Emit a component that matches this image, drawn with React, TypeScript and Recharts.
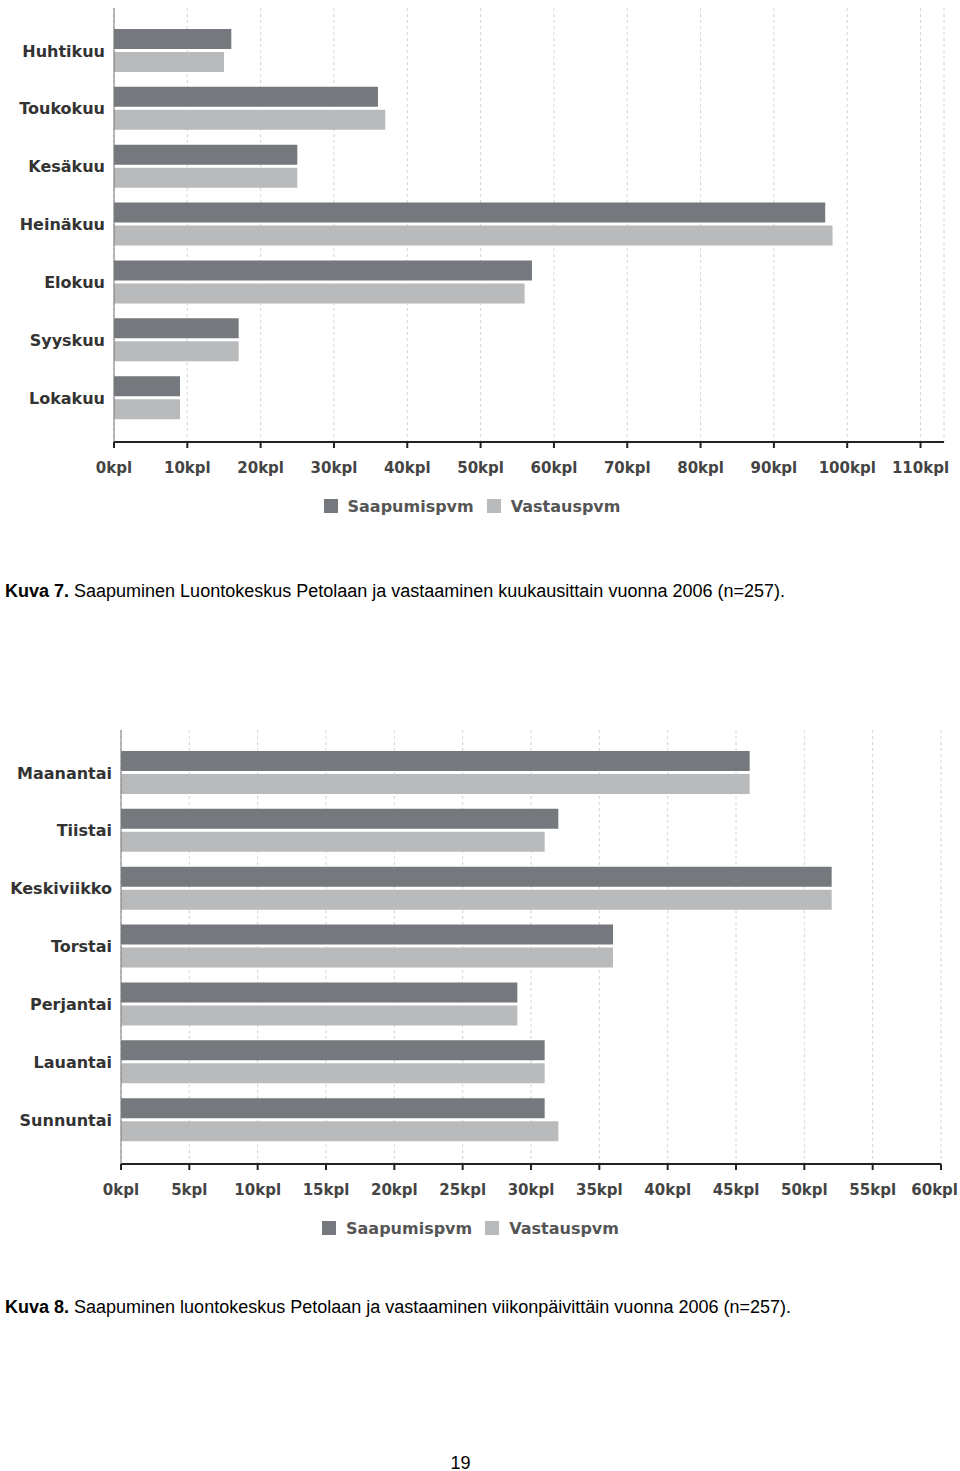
import {
  BarChart,
  Bar,
  XAxis,
  YAxis,
  CartesianGrid,
  Legend,
} from "recharts";

const months = ["Huhtikuu", "Toukokuu", "Kesäkuu", "Heinäkuu", "Elokuu", "Syyskuu", "Lokakuu"];
const monthArrivals = [16, 36, 25, 97, 57, 17, 9];
const monthReplies = [15, 37, 25, 98, 56, 17, 9];
const monthTicks = [0, 10, 20, 30, 40, 50, 60, 70, 80, 90, 100, 110];

const weekdays = ["Maanantai", "Tiistai", "Keskiviikko", "Torstai", "Perjantai", "Lauantai", "Sunnuntai"];
const dayArrivals = [46, 32, 52, 36, 29, 31, 31];
const dayReplies = [46, 31, 52, 36, 29, 31, 32];
const dayTicks = [0, 5, 10, 15, 20, 25, 30, 35, 40, 45, 50, 55, 60];

const DARK = "#75797d";
const LIGHT = "#b9babc";
const FONT = "'DejaVu Sans', Verdana, sans-serif";
const CAPTION_FONT = "'Liberation Sans', Arial, sans-serif";

const monthData = months.map((m, i) => ({
  name: m,
  saapumis: monthArrivals[i],
  vastaus: monthReplies[i],
}));

const dayData = weekdays.map((d, i) => ({
  name: d,
  saapumis: dayArrivals[i],
  vastaus: dayReplies[i],
}));

function renderLegend(props: any) {
  const { payload } = props;
  return (
    <div
      style={{
        display: "flex",
        justifyContent: "center",
        alignItems: "center",
        height: 30,
        gap: 13,
        fontFamily: FONT,
        fontWeight: "bold",
        fontSize: 16,
        color: "#555",
      }}
    >
      {payload.map((p: any) => (
        <span key={p.value} style={{ display: "flex", alignItems: "center" }}>
          <span
            style={{
              display: "inline-block",
              width: 14,
              height: 14,
              background: p.color,
              marginRight: 10,
            }}
          />
          {p.value}
        </span>
      ))}
    </div>
  );
}

// x tick label; the last one is pulled in so it stays inside the page
function KplTick(props: any) {
  const { x, y, payload } = props;
  const label = `${payload.value}kpl`;
  const half = label.length * 4.8;
  const nearEdge = x + half > 956;
  return (
    <text
      x={nearEdge ? 958 : x}
      y={y}
      dy="0.71em"
      textAnchor={nearEdge ? "end" : "middle"}
      fill="#444"
      fontSize={15}
      fontWeight="bold"
      fontFamily={FONT}
    >
      {label}
    </text>
  );
}

function HBarChart({ data, ticks, domainMax, yWidth, rightMargin }: any) {
  return (
    <BarChart
      width={960}
      height={541}
      data={data}
      layout="vertical"
      margin={{ top: 8, right: rightMargin, left: 0, bottom: 20 }}
      barSize={20}
      barGap={3}
    >
      <CartesianGrid
        horizontal={false}
        strokeDasharray="3 3"
        stroke="#d4d4d4"
      />
      <XAxis
        type="number"
        domain={[0, domainMax]}
        ticks={ticks}
        allowDataOverflow
        height={49}
        tickSize={6}
        tickMargin={14}
        axisLine={{ stroke: "#222", strokeWidth: 2 }}
        tickLine={{ stroke: "#222", strokeWidth: 2 }}
        tick={<KplTick />}
      />
      <YAxis
        type="category"
        dataKey="name"
        width={yWidth}
        tickLine={false}
        tickSize={0}
        tickMargin={9}
        padding={{ top: 14, bottom: 15 }}
        axisLine={{ stroke: "#777" }}
        tick={{ fill: "#333", fontSize: 16, fontWeight: "bold", fontFamily: FONT }}
      />
      <Legend verticalAlign="bottom" content={renderLegend} />
      <Bar dataKey="saapumis" name="Saapumispvm" fill={DARK} isAnimationActive={false} />
      <Bar dataKey="vastaus" name="Vastauspvm" fill={LIGHT} isAnimationActive={false} />
    </BarChart>
  );
}

export default function App() {
  return (
    <div style={{ position: "relative", width: 960, height: 1471, background: "#fff" }}>
      <style>{`body{margin:0}`}</style>
      <div style={{ position: "absolute", left: 0, top: 0 }}>
        <HBarChart data={monthData} ticks={monthTicks} domainMax={113.2} yWidth={114} rightMargin={16} />
      </div>
      <div
        style={{
          position: "absolute",
          left: 5,
          top: 580,
          fontFamily: CAPTION_FONT,
          fontSize: 18,
          lineHeight: "22px",
          color: "#000",
          whiteSpace: "nowrap",
        }}
      >
        <b>Kuva 7.</b> Saapuminen Luontokeskus Petolaan ja vastaaminen kuukausittain vuonna 2006 (n=257).
      </div>
      <div style={{ position: "absolute", left: 0, top: 722 }}>
        <HBarChart data={dayData} ticks={dayTicks} domainMax={60} yWidth={121} rightMargin={19} />
      </div>
      <div
        style={{
          position: "absolute",
          left: 5,
          top: 1296,
          fontFamily: CAPTION_FONT,
          fontSize: 18,
          lineHeight: "22px",
          color: "#000",
          whiteSpace: "nowrap",
        }}
      >
        <b>Kuva 8.</b> Saapuminen luontokeskus Petolaan ja vastaaminen viikonpäivittäin vuonna 2006 (n=257).
      </div>
      <div
        style={{
          position: "absolute",
          left: 0,
          width: 921,
          top: 1452,
          textAlign: "center",
          fontFamily: CAPTION_FONT,
          fontSize: 18,
          lineHeight: "22px",
        }}
      >
        19
      </div>
    </div>
  );
}
